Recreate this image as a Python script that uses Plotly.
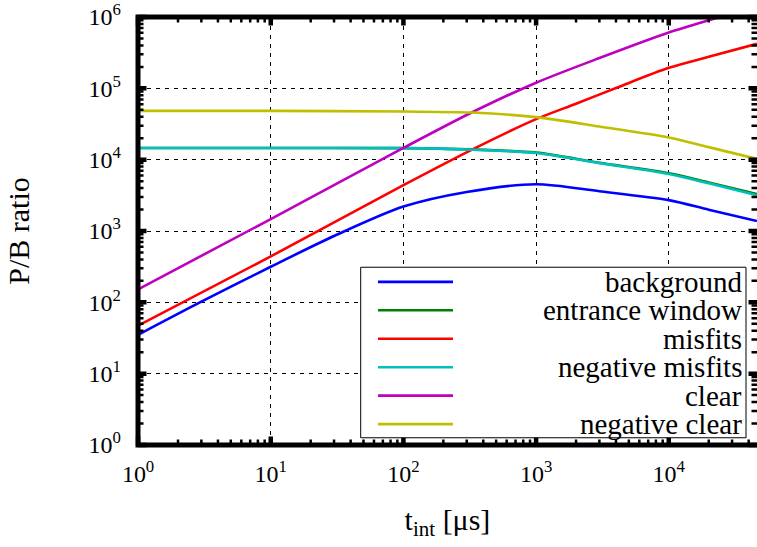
import math
import plotly.graph_objects as go

# ---- data (t_int in µs, P/B ratio) ----
t_background = [1, 3, 10, 30, 100, 300, 1000, 3000, 10000, 20000, 46200]
v_background = [35, 102, 315, 850, 2200, 3530, 4520, 3610, 2710, 1990, 1380]

t_entrance = [1, 10, 100, 300, 1000, 3000, 10000, 20000, 46200]
v_entrance = [14600, 14600, 14500, 13950, 12550, 9050, 6450, 4800, 3300]

t_misfits = [1, 10, 100, 335, 1000, 2000, 4050, 10000, 20000, 46200]
v_misfits = [47, 440, 4400, 14100, 37000, 61000, 102000, 194000, 277000, 421000]

t_negmisfits = [1, 10, 100, 300, 1000, 3000, 10000, 20000, 46200]
v_negmisfits = [14600, 14600, 14500, 13900, 12400, 8940, 6300, 4660, 3170]

t_clear = [1, 10, 100, 327, 1000, 3000, 10000, 20000, 24300]
v_clear = [152, 1470, 14600, 45800, 120000, 266000, 607000, 900000, 1000000]

t_negclear = [1, 10, 100, 327, 1000, 3000, 10000, 20000, 46200]
v_negclear = [48300, 48300, 47300, 45800, 39500, 29200, 20500, 15000, 10250]

series = [
    ("background", t_background, v_background, "#0000ff"),
    ("entrance window", t_entrance, v_entrance, "#008000"),
    ("misfits", t_misfits, v_misfits, "#ff0000"),
    ("negative misfits", t_negmisfits, v_negmisfits, "#00bfbf"),
    ("clear", t_clear, v_clear, "#bf00bf"),
    ("negative clear", t_negclear, v_negclear, "#bfbf00"),
]

x_tickvals = [1, 10, 100, 1000, 10000]
x_ticktext = ["10<sup>0</sup>", "10<sup>1</sup>", "10<sup>2</sup>", "10<sup>3</sup>", "10<sup>4</sup>"]
y_tickvals = [1, 10, 100, 1000, 10000, 100000, 1000000]
y_ticktext = ["10<sup>%d</sup>" % i for i in range(7)]

x_minor = [m * 10 ** d for d in range(5) for m in range(2, 10)]
y_minor = [m * 10 ** d for d in range(6) for m in range(2, 10)]

FONT = "Liberation Serif"
W, H = 757, 547
ML, MR, MT, MB = 138, 0, 14, 102
XR = [-0.0005, 4.665]
YR = [-0.0005, 6.0005]

fig = go.Figure()
for name, t, v, c in series:
    fig.add_trace(go.Scatter(x=t, y=v, mode="lines", name=name,
                             line=dict(color=c, width=2.6, shape="spline", smoothing=0.8),
                             showlegend=False))

axis_common = dict(
    type="log",
    showline=False,
    ticks="",
    showgrid=True, gridcolor="black", gridwidth=1, griddash="4px,5px",
    zeroline=False,
    ticklabeloverflow="allow",
    tickfont=dict(family=FONT, size=24, color="black"),
)

fig.update_xaxes(range=XR, tickmode="array", tickvals=x_tickvals, ticktext=x_ticktext,
                 title=dict(text="t<sub>int</sub> [μs]", font=dict(family=FONT, size=30, color="black"), standoff=22),
                 ticklabelstandoff=12, **axis_common)
fig.update_yaxes(range=YR, tickmode="array", tickvals=y_tickvals, ticktext=y_ticktext,
                 title=dict(text="P/B ratio", font=dict(family=FONT, size=30, color="black"), standoff=50),
                 ticklabelstandoff=16, **axis_common)

pw = W - ML - MR
ph = H - MT - MB

def xp(v):
    return (math.log10(v) - XR[0]) / (XR[1] - XR[0])

def yp(v):
    return (math.log10(v) - YR[0]) / (YR[1] - YR[0])

def tick_path(xvals, yvals, length):
    dx = length / pw
    dy = length / ph
    parts = []
    for v in xvals:
        x = xp(v)
        if 0 <= x <= 1:
            parts.append("M%.5f,0 L%.5f,%.5f" % (x, x, dy))
            parts.append("M%.5f,1 L%.5f,%.5f" % (x, x, 1 - dy))
    for v in yvals:
        y = yp(v)
        if 0 <= y <= 1:
            parts.append("M0,%.5f L%.5f,%.5f" % (y, dx, y))
            parts.append("M1,%.5f L%.5f,%.5f" % (y, 1 - dx, y))
    return " ".join(parts)

# minor and major ticks on all four sides (inside)
fig.add_shape(type="path", xref="paper", yref="paper",
              path=tick_path(x_minor, y_minor, 5.5),
              line=dict(color="black", width=2.5), layer="above")
fig.add_shape(type="path", xref="paper", yref="paper",
              path=tick_path(x_tickvals, y_tickvals, 8.5),
              line=dict(color="black", width=4.5), layer="above")

# frame (thick border around the plotting area)
fig.add_shape(type="rect", xref="paper", yref="paper", x0=0, x1=1.02, y0=0, y1=1,
              line=dict(color="black", width=5), layer="above")

# ---- custom legend (lines left, text right-aligned) ----
def px(x):
    return (x - ML) / pw
def py(y):
    return (H - MB - y) / ph

fig.add_shape(type="rect", xref="paper", yref="paper",
              x0=px(360.7), x1=px(746), y0=py(437.7), y1=py(266),
              line=dict(color="black", width=1), fillcolor="white", layer="above")
row_y = [280.7, 309.3, 338.0, 366.7, 395.3, 424.0]
for (name, t, v, c), yy in zip(series, row_y):
    fig.add_shape(type="line", xref="paper", yref="paper",
                  x0=px(378), x1=px(453), y0=py(yy), y1=py(yy),
                  line=dict(color=c, width=2.6), layer="above")
    fig.add_annotation(xref="paper", yref="paper", x=px(744), y=py(yy),
                       text=name, showarrow=False, xanchor="right", yanchor="middle",
                       font=dict(family=FONT, size=29, color="black"))

fig.update_layout(
    width=W, height=H,
    margin=dict(l=ML, r=MR, t=MT, b=MB, pad=0),
    paper_bgcolor="white", plot_bgcolor="white",
    showlegend=False,
)

fig.write_html("out.html", config={"displayModeBar": False},
               post_script="document.body.style.margin='0';")
